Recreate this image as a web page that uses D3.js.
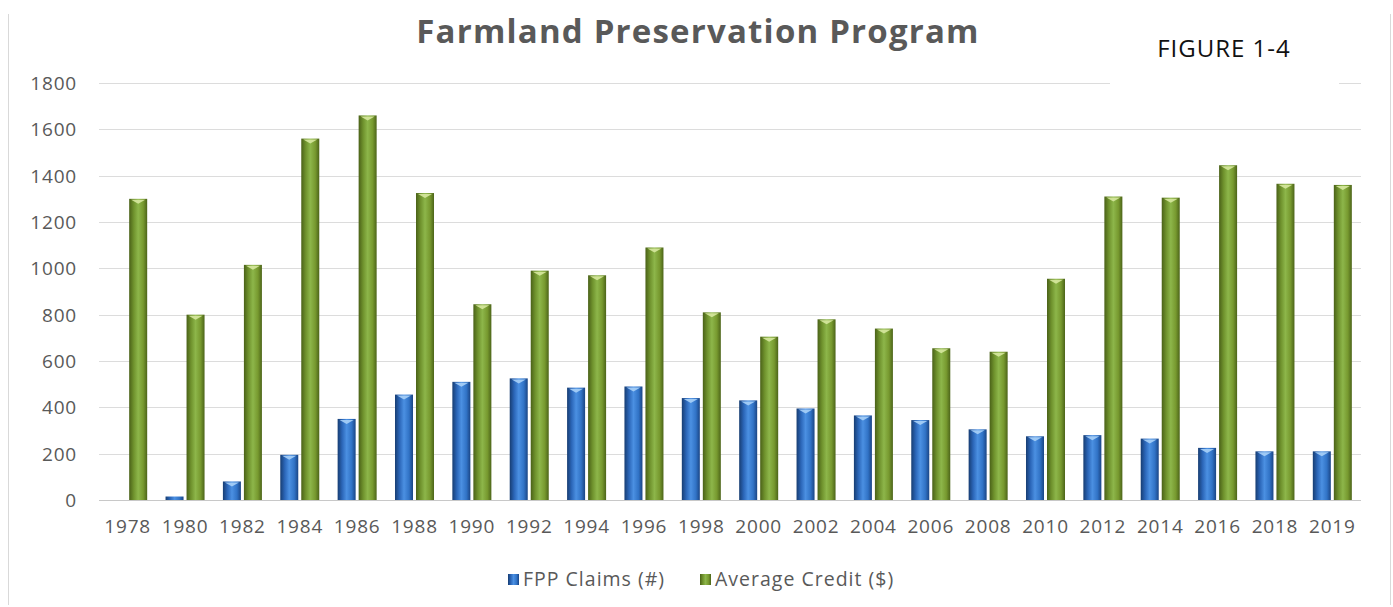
<!DOCTYPE html>
<html>
<head>
<meta charset="utf-8">
<script src="https://cdn.jsdelivr.net/npm/d3@7"></script>
<style>
  html, body { margin: 0; padding: 0; background: #ffffff; }
  svg { display: block; }
</style>
</head>
<body>
<svg id="chart" width="1393" height="607"></svg>
<script>
// Farmland Preservation Program: claims filed and average credit by year
const years = ["1978","1980","1982","1984","1986","1988","1990","1992","1994","1996","1998",
               "2000","2002","2004","2006","2008","2010","2012","2014","2016","2018","2019"];
const fppClaims = [0, 15, 80, 195, 350, 455, 510, 525, 485, 490, 440,
                   430, 395, 365, 345, 305, 275, 280, 265, 225, 210, 210];
const averageCredit = [1300, 800, 1015, 1560, 1660, 1325, 845, 990, 970, 1090, 810,
                       705, 780, 740, 655, 640, 955, 1310, 1305, 1445, 1365, 1360];
const seriesNames = ["FPP Claims (#)", "Average Credit ($)"];
const yTicks = [0, 200, 400, 600, 800, 1000, 1200, 1400, 1600, 1800];

const font = "'Open Sans', 'Liberation Sans', sans-serif";
const svg = d3.select("#chart");

// outer frame (left and right edges)
svg.append("line").attr("x1", 8.5).attr("x2", 8.5).attr("y1", 14).attr("y2", 605)
  .attr("stroke", "#d9d9d9").attr("stroke-width", 1);
svg.append("line").attr("x1", 1390.5).attr("x2", 1390.5).attr("y1", 14).attr("y2", 605)
  .attr("stroke", "#d9d9d9").attr("stroke-width", 1);

const plot = { left: 99, right: 1361, top: 83, bottom: 500 };

const y = d3.scaleLinear().domain([0, 1800]).range([plot.bottom, plot.top]);
const x0 = d3.scaleBand().domain(years).range([plot.left, plot.right]).paddingInner(0).paddingOuter(0);
const x1 = d3.scaleBand().domain(seriesNames).range([0, x0.bandwidth()])
  .paddingInner(0.143).paddingOuter(0.437);

// gridlines
svg.append("g").selectAll("line").data(yTicks).join("line")
  .attr("x1", plot.left).attr("x2", plot.right)
  .attr("y1", d => Math.round(y(d)) + 0.5).attr("y2", d => Math.round(y(d)) + 0.5)
  .attr("stroke", d => d === 0 ? "#c8c8c8" : "#dcdcdc").attr("stroke-width", 1.2);

// y axis labels
const yAxis = d3.axisLeft(y).tickValues(yTicks).tickFormat(d3.format("d")).tickSize(0).tickPadding(0);
const gy = svg.append("g").attr("transform", `translate(${plot.left - 22},0)`).call(yAxis);
gy.select(".domain").remove();
gy.selectAll("text").attr("font-family", font).attr("font-size", 19).attr("letter-spacing", 0.8)
  .attr("fill", "#595959").attr("dy", "0.35em");

// x axis labels
const xAxis = d3.axisBottom(x0).tickSize(0).tickPadding(0);
const gx = svg.append("g").attr("transform", `translate(0,${plot.bottom + 19})`).call(xAxis);
gx.select(".domain").remove();
gx.selectAll("text").attr("font-family", font).attr("font-size", 19).attr("letter-spacing", 0.8)
  .attr("fill", "#595959").attr("dy", "0.71em");

// cylinder-like shading for the bars
const defs = svg.append("defs");
const palettes = {
  blue:  ["#173d72", "#2b66b8", "#4b90e2", "#3173c6", "#1a4585"],
  green: ["#4a6118", "#6f922d", "#8db64a", "#77992f", "#4c6419"]
};
Object.entries(palettes).forEach(([k, c]) => {
  const g = defs.append("linearGradient").attr("id", "grad-" + k)
    .attr("x1", "0%").attr("x2", "100%").attr("y1", "0%").attr("y2", "0%");
  [0, 0.25, 0.5, 0.78, 1].forEach((o, i) => g.append("stop").attr("offset", o).attr("stop-color", c[i]));
});

const rows = years.map((yr, i) => ({ year: yr, values: [fppClaims[i], averageCredit[i]] }));
const fills = ["url(#grad-blue)", "url(#grad-green)"];
const caps = ["#a8d0f7", "#d7e8a0"];

const groups = svg.append("g").selectAll("g").data(rows).join("g")
  .attr("transform", d => `translate(${x0(d.year)},0)`);

groups.each(function(d) {
  const g = d3.select(this);
  d.values.forEach((v, si) => {
    if (v <= 0) return;
    const bx = x1(seriesNames[si]);
    const bw = x1.bandwidth();
    const top = y(v);
    g.append("rect")
      .attr("x", bx).attr("y", top).attr("width", bw).attr("height", plot.bottom - top)
      .attr("fill", fills[si]);
    if (plot.bottom - top > 6) {
      // bevelled top highlight
      g.append("path")
        .attr("d", `M${bx + 2},${top + 1} L${bx + bw - 2},${top + 1} L${bx + bw / 2},${top + 5} Z`)
        .attr("fill", caps[si]).attr("opacity", 0.9);
    }
  });
});

// title
svg.append("text").attr("x", 698).attr("y", 43).attr("text-anchor", "middle")
  .attr("font-family", font).attr("font-weight", 700).attr("font-size", 33).attr("letter-spacing", 1.2)
  .attr("fill", "#595959").text("Farmland Preservation Program");

// figure label on a white box over the top gridline
svg.append("rect").attr("x", 1110).attr("y", 22).attr("width", 229).attr("height", 66).attr("fill", "#ffffff");
svg.append("text").attr("x", 1224).attr("y", 57).attr("text-anchor", "middle")
  .attr("font-family", font).attr("font-size", 24).attr("letter-spacing", 1)
  .attr("fill", "#111111").text("FIGURE 1-4");

// legend
const legendColors = ["url(#grad-blue)", "url(#grad-green)"];
const legendX = [508, 700];
const lg = svg.append("g");
seriesNames.forEach((name, i) => {
  lg.append("rect").attr("x", legendX[i]).attr("y", 574).attr("width", 11).attr("height", 11)
    .attr("fill", legendColors[i]);
  lg.append("text").attr("x", legendX[i] + 15).attr("y", 586)
    .attr("font-family", font).attr("font-size", 19.5).attr("letter-spacing", 1)
    .attr("fill", "#595959").text(name);
});
</script>
</body>
</html>
